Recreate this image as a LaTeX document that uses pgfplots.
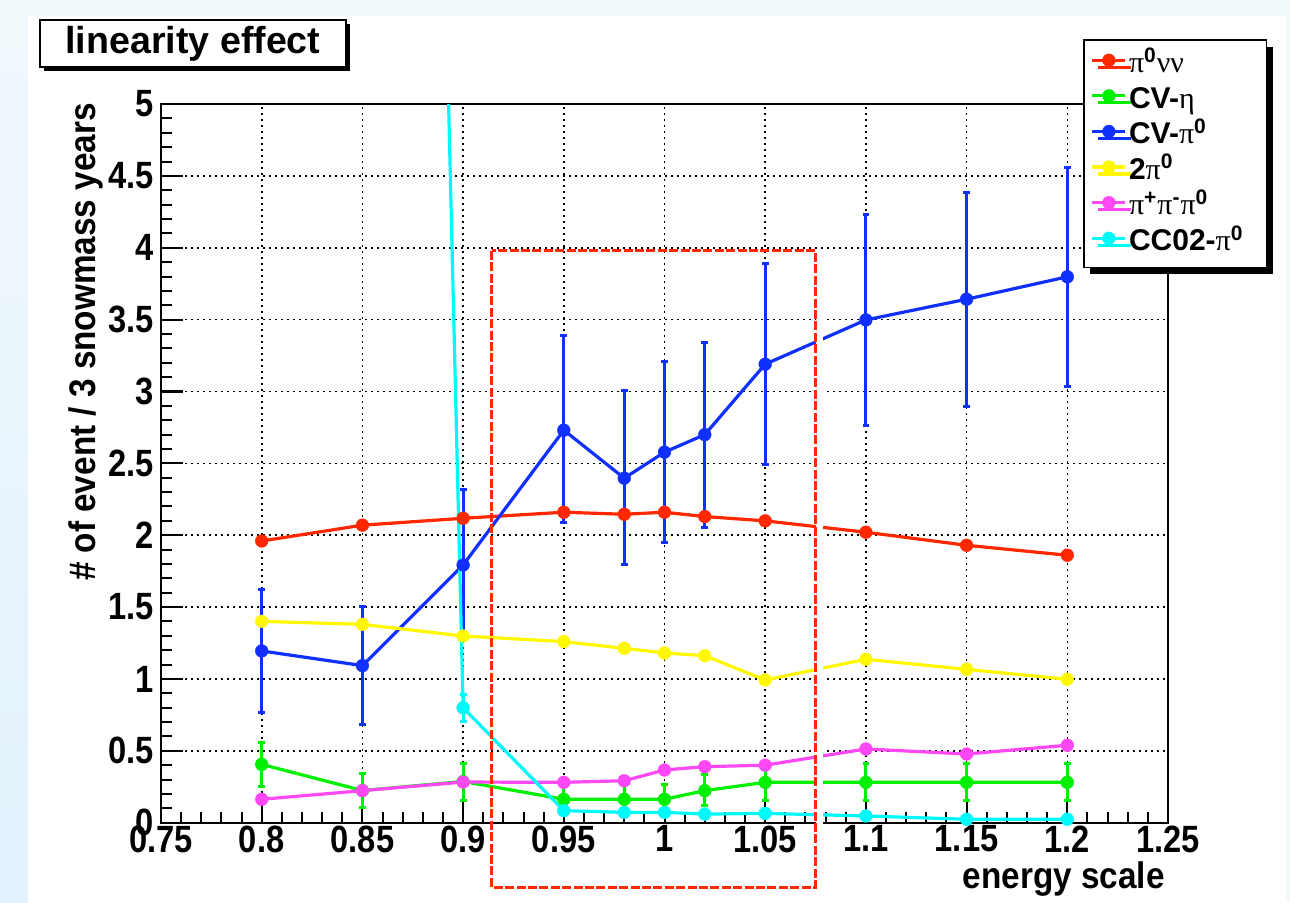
\documentclass[border=0pt]{standalone}
\usepackage{fontspec}
\setmainfont{Liberation Sans}
\newfontfamily\grk{Liberation Serif}
\newfontfamily\tickf[FakeStretch=0.86]{Liberation Sans}
\newfontfamily\labf[FakeStretch=0.9]{Liberation Sans}
\usepackage{pgfplots}
\pgfplotsset{compat=1.18}
\usetikzlibrary{shadows}
\definecolor{rred}{RGB}{255,40,0}
\definecolor{rgreen}{RGB}{0,240,0}
\definecolor{rblue}{RGB}{16,48,255}
\definecolor{ryellow}{RGB}{255,248,0}
\definecolor{rmag}{RGB}{255,72,245}
\definecolor{rcyan}{RGB}{0,250,250}
\definecolor{bgblue}{RGB}{240,248,252}
\definecolor{bgblue2}{RGB}{226,241,252}
\newcommand{\g}[1]{{\grk\mdseries #1}}
\pgfplotsset{
  ser/.style={color=#1, line width=1.6pt, mark=*, mark size=3.2pt,
    mark options={solid, fill=#1, draw=#1, line width=0.2pt}},
  err/.style={error bars/.cd, y dir=both, y explicit,
    error bar style={line width=1.5pt, color=#1},
    error mark options={rotate=90, line width=1.5pt, color=#1, mark size=1.7pt}},
}
\begin{document}
\begin{tikzpicture}
\path[use as bounding box] (0,0) rectangle (645pt,-451pt);
\fill[bgblue] (0,0) rectangle (645pt,-451pt);
\shade[top color=bgblue, bottom color=bgblue2] (0,-8pt) rectangle (14pt,-451pt);
\fill[white] (14pt,-8pt) rectangle (643pt,-451pt);
\begin{axis}[
  at={(80.5pt,-411.35pt)}, anchor=south west,
  width=503.5pt, height=359.35pt, scale only axis,
  xmin=0.75, xmax=1.25, ymin=0, ymax=5,
  xtick={0.75,0.8,0.85,0.9,0.95,1,1.05,1.1,1.15,1.2,1.25},
  ytick={0,0.5,1,1.5,2,2.5,3,3.5,4,4.5,5},
  minor tick num=4,
  tick align=inside, xtick pos=bottom, ytick pos=left,
  major tick length=11pt, minor tick length=5.5pt,
  grid=major,
  major grid style={black, line width=0.8pt, dash pattern=on 0.8pt off 2.2pt},
  axis line style={line width=1pt},
  tick style={line width=1pt, black},
  /pgf/number format/assume math mode=true,
  tick label style={font=\tickf\fontsize{19}{19}\selectfont\bfseries},
  xticklabel style={yshift=2pt},
  legend style={at={(0.9156,1.0904)}, anchor=north west, draw=black,
    line width=0.8pt, fill=white,
    font=\fontsize{15}{15}\selectfont\bfseries,
    inner xsep=3.5pt, inner ysep=3.5pt, row sep=0pt,
    cells={anchor=west},
    nodes={inner sep=1pt, text height=11.8pt, text depth=4pt},
    drop shadow={shadow xshift=3pt, shadow yshift=-3.5pt, fill=black, opacity=1}},
  legend image code/.code={\draw[mark repeat=2, mark phase=2, #1] plot coordinates {(0pt,2.2pt) (8.25pt,2.2pt) (16.5pt,2.2pt)};},
]
% pi0 nu nu
\addplot[ser=rred] coordinates {
 (0.80,1.96) (0.85,2.07) (0.90,2.118) (0.95,2.160) (0.98,2.146) (1.00,2.160)
 (1.02,2.13) (1.05,2.10) (1.10,2.021) (1.15,1.930) (1.20,1.861)};
\addlegendentry{\g{π}\textsuperscript{0}\g{νν}}
% CV-eta
\addplot[ser=rgreen, err=rgreen] coordinates {
 (0.80,0.406) += (0,0.151) -= (0,0.156)
 (0.85,0.224) += (0,0.12) -= (0,0.12)
 (0.90,0.287) += (0,0.128) -= (0,0.129)
 (0.95,0.163) += (0,0.10) -= (0,0.10)
 (0.98,0.163) += (0,0.10) -= (0,0.10)
 (1.00,0.163) += (0,0.10) -= (0,0.10)
 (1.02,0.223) += (0,0.11) -= (0,0.105)
 (1.05,0.281) += (0,0.125) -= (0,0.125)
 (1.10,0.281) += (0,0.132) -= (0,0.128)
 (1.15,0.281) += (0,0.132) -= (0,0.128)
 (1.20,0.281) += (0,0.132) -= (0,0.128)};
\addlegendentry{CV-\g{η}}
% CV-pi0
\addplot[ser=rblue, err=rblue] coordinates {
 (0.80,1.195) += (0,0.429) -= (0,0.425)
 (0.85,1.093) += (0,0.410) -= (0,0.408)
 (0.90,1.793) += (0,0.527) -= (0,0.52)
 (0.95,2.731) += (0,0.656) -= (0,0.641)
 (0.98,2.397) += (0,0.607) -= (0,0.604)
 (1.00,2.578) += (0,0.628) -= (0,0.627)
 (1.02,2.700) += (0,0.638) -= (0,0.647)
 (1.05,3.190) += (0,0.698) -= (0,0.696)
 (1.10,3.498) += (0,0.731) -= (0,0.735)
 (1.15,3.642) += (0,0.742) -= (0,0.749)
 (1.20,3.798) += (0,0.758) -= (0,0.764)};
\addlegendentry{CV-\g{π}\textsuperscript{0}}
% 2pi0
\addplot[ser=ryellow] coordinates {
 (0.80,1.401) (0.85,1.38) (0.90,1.299) (0.95,1.26) (0.98,1.213) (1.00,1.181)
 (1.02,1.162) (1.05,0.993) (1.10,1.137) (1.15,1.067) (1.20,0.998)};
\addlegendentry{2\g{π}\textsuperscript{0}}
% pi+ pi- pi0
\addplot[ser=rmag] coordinates {
 (0.80,0.163) (0.85,0.223) (0.90,0.283) (0.95,0.281) (0.98,0.292) (1.00,0.367)
 (1.02,0.39) (1.05,0.40) (1.10,0.513) (1.15,0.478) (1.20,0.539)};
\addlegendentry{\g{π}\textsuperscript{+}\g{π}\textsuperscript{-}\g{π}\textsuperscript{0}}
% CC02-pi0
\addplot[ser=rcyan, err=rcyan] coordinates {
 (0.85,30.0)
 (0.90,0.80) += (0,0.089) -= (0,0.097)
 (0.95,0.084) (0.98,0.072) (1.00,0.072) (1.02,0.06) (1.05,0.065)
 (1.10,0.047) (1.15,0.024) (1.20,0.024)};
\addlegendentry{CC02-\g{π}\textsuperscript{0}\hspace*{7pt}}
\end{axis}
% annotation box
\fill[white] (408pt,-125pt) rectangle (411.5pt,-444pt);
\draw[rred, line width=1.5pt, dash pattern=on 4.5pt off 1.2pt] (245.85pt,-125.35pt) rectangle (407.5pt,-443.5pt);
% axis titles
\node[anchor=base east, inner sep=0pt, font=\labf\fontsize{18.5}{18}\selectfont\bfseries] at (582.5pt,-444pt) {energy scale};
\node[rotate=90, anchor=base east, inner sep=0pt, font=\labf\fontsize{18.5}{18}\selectfont\bfseries] at (47.5pt,-51.5pt) {\# of event / 3 snowmass years};
% title box
\node[draw=black, line width=1pt, fill=white, drop shadow={shadow xshift=2pt, shadow yshift=-2pt, fill=black, opacity=1},
  font=\fontsize{18.8}{20}\selectfont\bfseries, minimum width=153pt, minimum height=23.5pt, inner sep=0pt] at (96.5pt,-21.75pt) {linearity effect};
\end{tikzpicture}
\end{document}
